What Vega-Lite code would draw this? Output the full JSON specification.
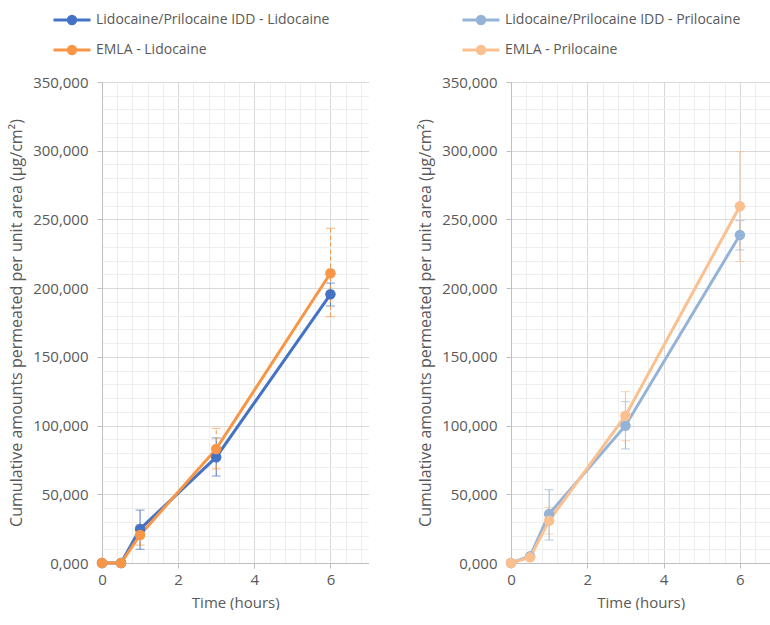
{
  "$schema": "https://vega.github.io/schema/vega-lite/v6.json",
  "padding": {"left": 8, "top": 0, "right": 0, "bottom": 0},
  "background": "white",
  "config": {
    "font": "Open Sans",
    "view": {"stroke": null},
    "axis": {
      "labelFont": "Open Sans", "titleFont": "Open Sans",
      "labelColor": "#595959", "titleColor": "#595959",
      "labelFontSize": 15, "titleFontSize": 15, "titleFontWeight": "normal",
      "domainColor": "#BFBFBF", "tickColor": "#BFBFBF",
      "labelOverlap": false, "labelBound": false, "labelFlush": false
    },
    "legend": {
      "symbolType": "M-1,0L1,0M-0.2,0A0.2,0.2,0,1,0,0.2,0A0.2,0.2,0,1,0,-0.2,0ZM-0.08,0A0.08,0.08,0,1,0,0.08,0A0.08,0.08,0,1,0,-0.08,0Z",
      "symbolSize": 1369, "symbolStrokeWidth": 3, "symbolOpacity": 1, "labelFontSize": 14, "labelColor": "#595959",
      "labelFont": "Open Sans", "rowPadding": -3, "labelOffset": 4, "labelLimit": 400
    }
  },
  "data": {"values": [
    {"panel": "L", "series": "Lidocaine/Prilocaine IDD - Lidocaine", "t": 0, "v": 0},
    {"panel": "L", "series": "Lidocaine/Prilocaine IDD - Lidocaine", "t": 0.5, "v": 0},
    {"panel": "L", "series": "Lidocaine/Prilocaine IDD - Lidocaine", "t": 1, "v": 24700, "ep": 13800, "em": -14700},
    {"panel": "L", "series": "Lidocaine/Prilocaine IDD - Lidocaine", "t": 3, "v": 77000, "ep": 14000, "em": -13700},
    {"panel": "L", "series": "Lidocaine/Prilocaine IDD - Lidocaine", "t": 6, "v": 195500, "ep": 8200, "em": -8500},
    {"panel": "L", "series": "EMLA - Lidocaine", "t": 0, "v": 0},
    {"panel": "L", "series": "EMLA - Lidocaine", "t": 0.5, "v": 0},
    {"panel": "L", "series": "EMLA - Lidocaine", "t": 1, "v": 20400, "ep": 7400, "em": -7400},
    {"panel": "L", "series": "EMLA - Lidocaine", "t": 3, "v": 83000, "ep": 15000, "em": -14600},
    {"panel": "L", "series": "EMLA - Lidocaine", "t": 6, "v": 210800, "ep": 32800, "em": -31600},
    {"panel": "R", "series": "Lidocaine/Prilocaine IDD - Prilocaine", "t": 0, "v": 0},
    {"panel": "R", "series": "Lidocaine/Prilocaine IDD - Prilocaine", "t": 0.5, "v": 4900},
    {"panel": "R", "series": "Lidocaine/Prilocaine IDD - Prilocaine", "t": 1, "v": 35700, "ep": 17600, "em": -19000},
    {"panel": "R", "series": "Lidocaine/Prilocaine IDD - Prilocaine", "t": 3, "v": 99900, "ep": 17500, "em": -16900},
    {"panel": "R", "series": "Lidocaine/Prilocaine IDD - Prilocaine", "t": 6, "v": 238700, "ep": 10400, "em": -10900},
    {"panel": "R", "series": "EMLA - Prilocaine", "t": 0, "v": 0},
    {"panel": "R", "series": "EMLA - Prilocaine", "t": 0.5, "v": 4100},
    {"panel": "R", "series": "EMLA - Prilocaine", "t": 1, "v": 30800, "ep": 9700, "em": -9700},
    {"panel": "R", "series": "EMLA - Prilocaine", "t": 3, "v": 107200, "ep": 17500, "em": -18200},
    {"panel": "R", "series": "EMLA - Prilocaine", "t": 6, "v": 259600, "ep": 39700, "em": -40300}
  ]},
  "spacing": 48,
  "resolve": {"scale": {"color": "independent", "x": "independent", "y": "independent"}, "legend": {"color": "independent"}},
  "hconcat": [
    {
      "width": 266.5, "height": 481,
      "transform": [{"filter": "datum.panel === 'L'"}],
      "encoding": {
        "x": {"field": "t", "type": "quantitative", "title": "Time (hours)",
          "scale": {"domain": [0, 7], "nice": false, "zero": false},
          "axis": {
            "values": [0, 0.4, 0.8, 1.2, 1.6, 2, 2.4, 2.8, 3.2, 3.6, 4, 4.4, 4.8, 5.2, 5.6, 6, 6.4, 6.8],
            "labelExpr": "datum.value % 2 === 0 ? format(datum.value, 'd') : ''",
            "grid": true,
            "gridColor": {"condition": {"test": "datum.value % 2 === 0", "value": "#D9D9D9"}, "value": "#EEEEEE"},
            "tickColor": {"condition": {"test": "datum.value % 2 === 0", "value": "#BFBFBF"}, "value": "transparent"},
            "tickSize": 5, "labelPadding": 4, "titlePadding": 8
          }
        },
        "y": {"field": "v", "type": "quantitative", "title": "Cumulative amounts permeated per unit area (µg/cm²)",
          "scale": {"domain": [0, 350000], "nice": false},
          "axis": {
            "values": [0, 10000, 20000, 30000, 40000, 50000, 60000, 70000, 80000, 90000, 100000, 110000, 120000, 130000, 140000, 150000, 160000, 170000, 180000, 190000, 200000, 210000, 220000, 230000, 240000, 250000, 260000, 270000, 280000, 290000, 300000, 310000, 320000, 330000, 340000, 350000],
            "labelExpr": "datum.value % 50000 === 0 ? (datum.value === 0 ? '0,000' : format(datum.value, ',')) : ''",
            "grid": true,
            "gridColor": {"condition": {"test": "datum.value % 50000 === 0", "value": "#D9D9D9"}, "value": "#EEEEEE"},
            "tickColor": {"condition": {"test": "datum.value % 50000 === 0", "value": "#BFBFBF"}, "value": "transparent"},
            "tickSize": 5, "labelPadding": 9, "titlePadding": 8, "titleFontSize": 16
          }
        },
        "color": {"field": "series", "type": "nominal",
          "scale": {"domain": ["Lidocaine/Prilocaine IDD - Lidocaine", "EMLA - Lidocaine"], "range": ["#4472C4", "#F79646"]},
          "legend": {"orient": "none", "legendX": -50, "legendY": -82, "direction": "vertical", "title": null}}
      },
      "layer": [
        {
          "transform": [{"filter": "datum.ep != null && datum.series !== 'EMLA - Lidocaine'"}],
          "mark": {"type": "errorbar", "ticks": {"size": 9}, "thickness": 1},
          "encoding": {"yError": {"field": "ep"}, "yError2": {"field": "em"}}
        },
        {
          "transform": [{"filter": "datum.ep != null && datum.series === 'EMLA - Lidocaine'"}],
          "mark": {"type": "errorbar", "ticks": {"size": 9}, "thickness": 1, "rule": {"strokeDash": [4, 3]}},
          "encoding": {"yError": {"field": "ep"}, "yError2": {"field": "em"}}
        },
        {"mark": {"type": "line", "strokeWidth": 3}},
        {"mark": {"type": "point", "filled": true, "size": 110, "opacity": 1}}
      ]
    },
    {
      "width": 259.4, "height": 481,
      "transform": [{"filter": "datum.panel === 'R'"}],
      "encoding": {
        "x": {"field": "t", "type": "quantitative", "title": "Time (hours)",
          "scale": {"domain": [0, 6.8], "nice": false, "zero": false},
          "axis": {
            "values": [0, 0.4, 0.8, 1.2, 1.6, 2, 2.4, 2.8, 3.2, 3.6, 4, 4.4, 4.8, 5.2, 5.6, 6, 6.4],
            "labelExpr": "datum.value % 2 === 0 ? format(datum.value, 'd') : ''",
            "grid": true,
            "gridColor": {"condition": {"test": "datum.value % 2 === 0", "value": "#D9D9D9"}, "value": "#EEEEEE"},
            "tickColor": {"condition": {"test": "datum.value % 2 === 0", "value": "#BFBFBF"}, "value": "transparent"},
            "tickSize": 5, "labelPadding": 4, "titlePadding": 8
          }
        },
        "y": {"field": "v", "type": "quantitative", "title": "Cumulative amounts permeated per unit area (µg/cm²)",
          "scale": {"domain": [0, 350000], "nice": false},
          "axis": {
            "values": [0, 10000, 20000, 30000, 40000, 50000, 60000, 70000, 80000, 90000, 100000, 110000, 120000, 130000, 140000, 150000, 160000, 170000, 180000, 190000, 200000, 210000, 220000, 230000, 240000, 250000, 260000, 270000, 280000, 290000, 300000, 310000, 320000, 330000, 340000, 350000],
            "labelExpr": "datum.value % 50000 === 0 ? (datum.value === 0 ? '0,000' : format(datum.value, ',')) : ''",
            "grid": true,
            "gridColor": {"condition": {"test": "datum.value % 50000 === 0", "value": "#D9D9D9"}, "value": "#EEEEEE"},
            "tickColor": {"condition": {"test": "datum.value % 50000 === 0", "value": "#BFBFBF"}, "value": "transparent"},
            "tickSize": 5, "labelPadding": 9, "titlePadding": 8, "titleFontSize": 16
          }
        },
        "color": {"field": "series", "type": "nominal",
          "scale": {"domain": ["Lidocaine/Prilocaine IDD - Prilocaine", "EMLA - Prilocaine"], "range": ["#95B3D7", "#FAC090"]},
          "legend": {"orient": "none", "legendX": -50, "legendY": -82, "direction": "vertical", "title": null}}
      },
      "layer": [
        {
          "transform": [{"filter": "datum.ep != null"}],
          "mark": {"type": "errorbar", "ticks": {"size": 9}, "thickness": 1},
          "encoding": {"yError": {"field": "ep"}, "yError2": {"field": "em"}}
        },
        {"mark": {"type": "line", "strokeWidth": 3}},
        {"mark": {"type": "point", "filled": true, "size": 110, "opacity": 1}}
      ]
    }
  ]
}
